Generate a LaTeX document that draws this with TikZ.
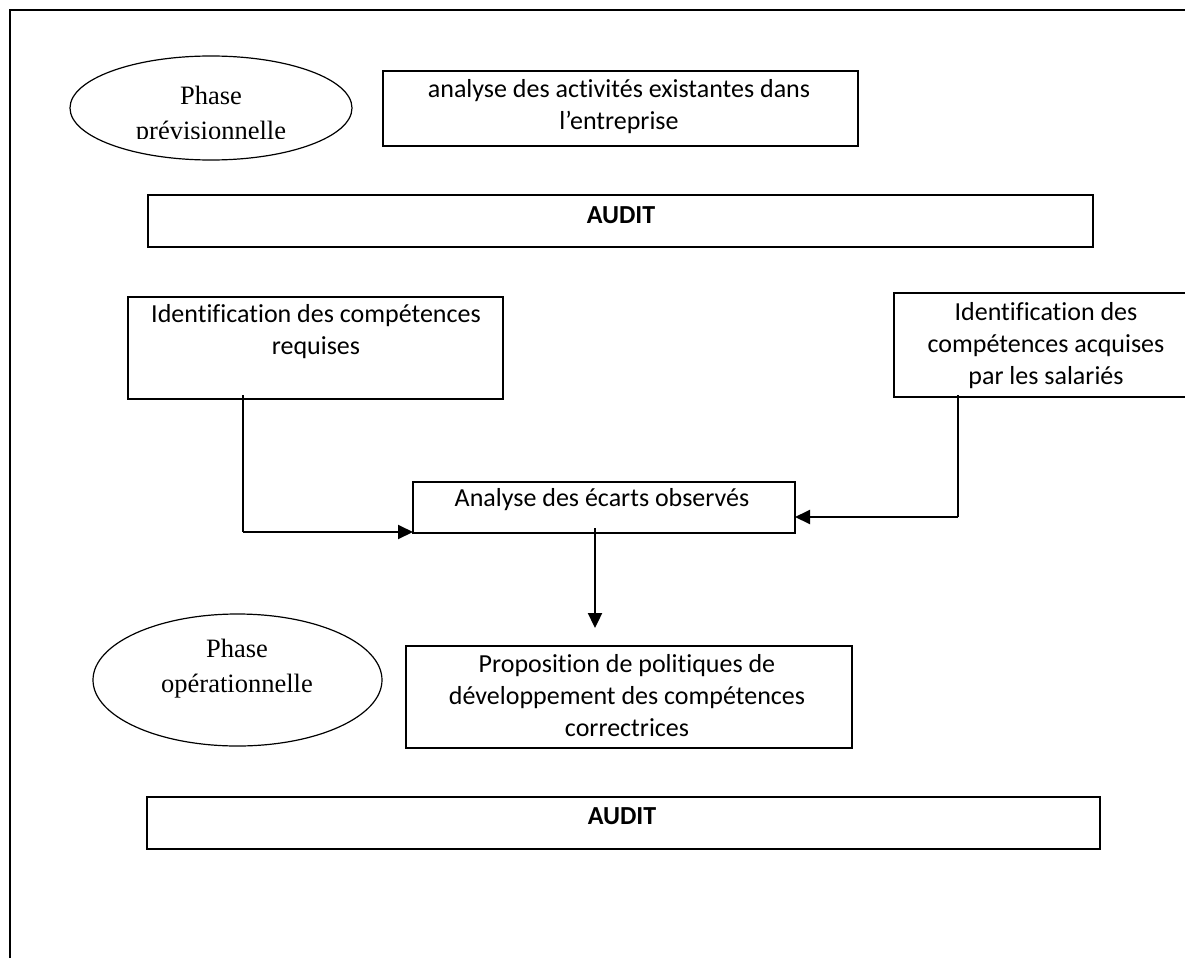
\documentclass[tikz,border=0pt]{standalone}
\usepackage{fontspec}
\setmainfont{Liberation Serif}
\newfontfamily\calfont[Ligatures=NoCommon]{Carlito}
\usetikzlibrary{arrows.meta,shapes.geometric}
\begin{document}
\begin{tikzpicture}[x=1pt,y=-1pt,
  box/.style={draw, line width=1.6pt, inner sep=0pt},
  txt/.style={font=\calfont\fontsize{26}{32}\selectfont, align=center, inner sep=0pt, anchor=base},
  btxt/.style={font=\calfont\bfseries\fontsize{26}{32}\selectfont, inner sep=0pt, anchor=base},
  ell/.style={draw, ellipse, line width=1.2pt, inner sep=0pt},
  stxt/.style={font=\fontsize{26.5}{35}\selectfont, align=center, inner sep=0pt, anchor=base},
  thinline/.style={line width=1.2pt},
  thickarrow/.style={line width=2pt, -{Triangle[length=15pt,width=14pt]}}
]
\useasboundingbox (0,0) rectangle (1185,958);
% frame
\draw[line width=1.6pt] (10,958) -- (10,10) -- (1185,10);

% ellipses
\node[ell, minimum width=282pt, minimum height=104pt] (E1) at (211,108) {};
\begin{scope}
  \clip (60,50) rectangle (360,138.5);
  \node[stxt] (E1t) at (211,139) {Phase\\prévisionnelle};
\end{scope}
\node[ell, minimum width=289pt, minimum height=132pt] (E2) at (237.5,680) {};
\node[stxt] (E2t) at (237,692) {Phase\\opérationnelle};

% boxes
\node[box, minimum width=475pt, minimum height=75pt] (A) at (620.5,108.5) {};
\node[txt] (At) at (619,129) {analyse des activités existantes dans\\l’entreprise};

\node[box, minimum width=945pt, minimum height=52pt] (AU1) at (620.5,221) {};
\node[btxt] (AU1t) at (621,223) {AUDIT};

\node[box, minimum width=375pt, minimum height=102pt] (L) at (315.5,348) {};
\node[txt] (Lt) at (316,354) {Identification des compétences\\requises};

\node[box, minimum width=304pt, minimum height=104pt] (R) at (1046,345) {};
\node[txt] (Rt) at (1046,384) {Identification des\\compétences acquises\\par les salariés};

\node[box, minimum width=382pt, minimum height=51pt] (M) at (604,507.5) {};
\node[txt] (Mt) at (602,506) {Analyse des écarts observés};

\node[box, minimum width=446pt, minimum height=102pt] (P) at (629,697) {};
\node[txt] (Pt) at (627,736) {Proposition de politiques de\\développement des compétences\\correctrices};

\node[box, minimum width=953pt, minimum height=52pt] (AU2) at (623.5,823) {};
\node[btxt] (AU2t) at (622,824) {AUDIT};

% connectors
\coordinate (c1) at (243,395);
\coordinate (c2) at (413,532);
\draw[thinline] (c1) -- (c1 |- c2);
\draw[thickarrow] (c1 |- c2) -- (c2);

\coordinate (c3) at (958,395);
\coordinate (c4) at (795,517);
\draw[thinline] (c3) -- (c3 |- c4);
\draw[thickarrow] (c3 |- c4) -- (c4);

\coordinate (c5) at (595,528);
\coordinate (c6) at (595,628);
\draw[thickarrow, line width=2.3pt] (c5) -- (c6);
\end{tikzpicture}
\end{document}
